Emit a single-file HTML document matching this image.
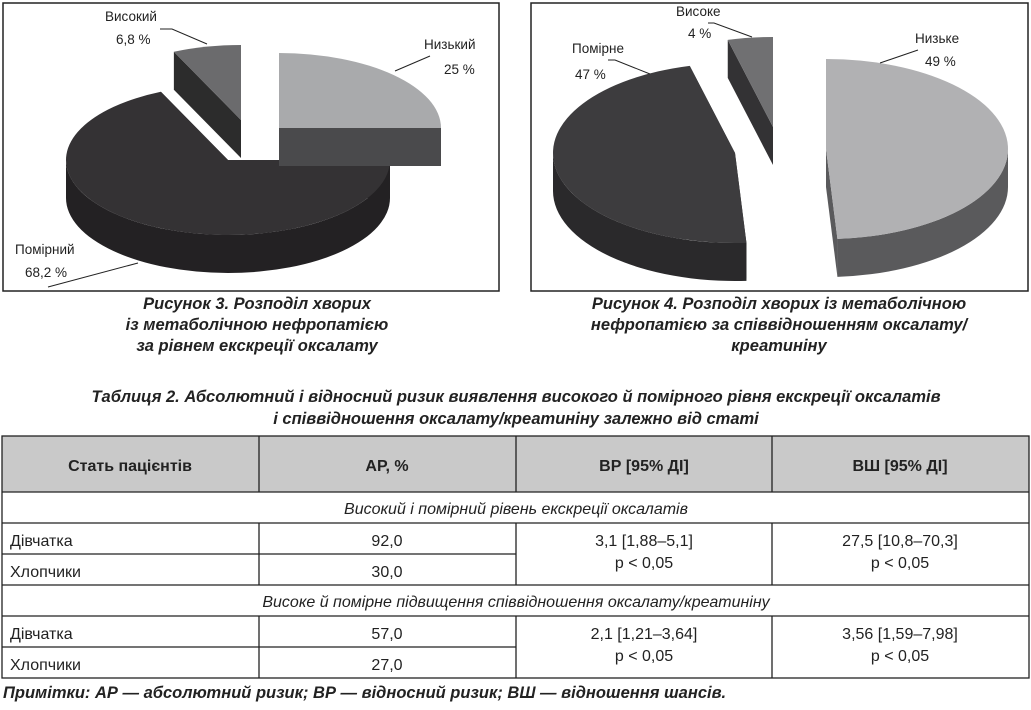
<!DOCTYPE html>
<html><head><meta charset="utf-8">
<style>
html,body{margin:0;padding:0;background:#fff;}
body{width:1031px;height:705px;overflow:hidden;position:relative;font-family:"Liberation Sans","Noto Sans CJK SC",sans-serif;}
svg text{font-family:"Liberation Sans","Noto Sans CJK SC",sans-serif;fill:#222;}
.cap{font-weight:bold;font-style:italic;font-size:16.5px;}
.lbl{font-size:13.5px;}
.tb{font-size:16px;}
</style></head>
<body>
<svg id="s" width="1031" height="705" viewBox="0 0 1031 705">
  <rect x="3" y="3" width="496" height="288" fill="#fff" stroke="#222" stroke-width="1.5"/>
  <rect x="531" y="3" width="497" height="288" fill="#fff" stroke="#222" stroke-width="1.5"/>
  <g id="pie1"></g>
  <g id="pie2"></g>

  <!-- chart 1 labels -->
  <g>
    <text class="lbl" x="105" y="21">Високий</text>
    <text class="lbl" x="116" y="44">6,8 %</text>
    <polyline points="160,29 172,29 207,44" fill="none" stroke="#222" stroke-width="1"/>
    <text class="lbl" x="424" y="49">Низький</text>
    <text class="lbl" x="444" y="74">25 %</text>
    <line x1="395" y1="71" x2="430" y2="56" stroke="#222" stroke-width="1"/>
    <text class="lbl" x="15" y="254">Помірний</text>
    <text class="lbl" x="25" y="277">68,2 %</text>
    <line x1="48" y1="287" x2="138" y2="263" stroke="#222" stroke-width="1"/>
  </g>
  <!-- chart 2 labels -->
  <g>
    <text class="lbl" x="676" y="16">Високе</text>
    <text class="lbl" x="688" y="38">4 %</text>
    <polyline points="708,23 714,23 752,37" fill="none" stroke="#222" stroke-width="1"/>
    <text class="lbl" x="572" y="53">Помірне</text>
    <text class="lbl" x="575" y="79">47 %</text>
    <polyline points="608,60 615,60 650,74" fill="none" stroke="#222" stroke-width="1"/>
    <text class="lbl" x="915" y="43">Низьке</text>
    <text class="lbl" x="925" y="66">49 %</text>
    <line x1="880" y1="63" x2="918" y2="50" stroke="#222" stroke-width="1"/>
  </g>

  <!-- captions -->
  <g>
    <text class="cap" x="257" y="309" text-anchor="middle">Рисунок 3. Розподіл хворих</text>
    <text class="cap" x="257" y="330" text-anchor="middle">із метаболічною нефропатією</text>
    <text class="cap" x="257" y="351" text-anchor="middle">за рівнем екскреції оксалату</text>
  </g>
  <g>
    <text class="cap" x="779" y="309" text-anchor="middle">Рисунок 4. Розподіл хворих із метаболічною</text>
    <text class="cap" x="779" y="330" text-anchor="middle">нефропатією за співвідношенням оксалату/</text>
    <text class="cap" x="779" y="351" text-anchor="middle">креатиніну</text>
  </g>
  <g>
    <text class="cap" x="516" y="402" text-anchor="middle">Таблиця 2. Абсолютний і відносний ризик виявлення високого й помірного рівня екскреції оксалатів</text>
    <text class="cap" x="516" y="424" text-anchor="middle">і співвідношення оксалату/креатиніну залежно від статі</text>
  </g>

  <!-- table -->
  <g>
    <rect x="2" y="436" width="1027" height="56" fill="#c9c9c9"/>
    <g stroke="#222" stroke-width="1.3" fill="none">
      <rect x="2" y="436" width="1027" height="242"/>
      <line x1="2" y1="492" x2="1029" y2="492"/>
      <line x1="2" y1="523" x2="1029" y2="523"/>
      <line x1="2" y1="554" x2="516" y2="554"/>
      <line x1="2" y1="585" x2="1029" y2="585"/>
      <line x1="2" y1="616" x2="1029" y2="616"/>
      <line x1="2" y1="647" x2="516" y2="647"/>
      <line x1="259" y1="436" x2="259" y2="492"/>
      <line x1="516" y1="436" x2="516" y2="492"/>
      <line x1="772" y1="436" x2="772" y2="492"/>
      <line x1="259" y1="523" x2="259" y2="585"/>
      <line x1="516" y1="523" x2="516" y2="585"/>
      <line x1="772" y1="523" x2="772" y2="585"/>
      <line x1="259" y1="616" x2="259" y2="678"/>
      <line x1="516" y1="616" x2="516" y2="678"/>
      <line x1="772" y1="616" x2="772" y2="678"/>
    </g>
    <g class="tb" font-weight="bold">
      <text class="tb" x="130" y="471" text-anchor="middle" font-weight="bold">Стать пацієнтів</text>
      <text class="tb" x="387" y="471" text-anchor="middle" font-weight="bold">АР, %</text>
      <text class="tb" x="644" y="471" text-anchor="middle" font-weight="bold">ВР [95% ДІ]</text>
      <text class="tb" x="900" y="471" text-anchor="middle" font-weight="bold">ВШ [95% ДІ]</text>
    </g>
    <text class="tb" x="516" y="514" text-anchor="middle" font-style="italic">Високий і помірний рівень екскреції оксалатів</text>
    <text class="tb" x="10" y="546">Дівчатка</text>
    <text class="tb" x="387" y="546" text-anchor="middle">92,0</text>
    <text class="tb" x="10" y="577">Хлопчики</text>
    <text class="tb" x="387" y="577" text-anchor="middle">30,0</text>
    <text class="tb" x="644" y="546" text-anchor="middle">3,1 [1,88–5,1]</text>
    <text class="tb" x="644" y="568" text-anchor="middle">p &lt; 0,05</text>
    <text class="tb" x="900" y="546" text-anchor="middle">27,5 [10,8–70,3]</text>
    <text class="tb" x="900" y="568" text-anchor="middle">p &lt; 0,05</text>
    <text class="tb" x="516" y="607" text-anchor="middle" font-style="italic">Високе й помірне підвищення співвідношення оксалату/креатиніну</text>
    <text class="tb" x="10" y="639">Дівчатка</text>
    <text class="tb" x="387" y="639" text-anchor="middle">57,0</text>
    <text class="tb" x="10" y="670">Хлопчики</text>
    <text class="tb" x="387" y="670" text-anchor="middle">27,0</text>
    <text class="tb" x="644" y="639" text-anchor="middle">2,1 [1,21–3,64]</text>
    <text class="tb" x="644" y="661" text-anchor="middle">p &lt; 0,05</text>
    <text class="tb" x="900" y="639" text-anchor="middle">3,56 [1,59–7,98]</text>
    <text class="tb" x="900" y="661" text-anchor="middle">p &lt; 0,05</text>
  </g>
  <text class="cap" x="3" y="698">Примітки: АР — абсолютний ризик; ВР — відносний ризик; ВШ — відношення шансів.</text>
</svg>
<script>
// Chart data
const chart1Categories = ["Низький", "Помірний", "Високий"];
const chart1Values = [25, 68.2, 6.8];
const chart2Categories = ["Низьке", "Помірне", "Високе"];
const chart2Values = [49, 47, 4];

// Layout (styling, not data)
const layout1 = {rx:162, ry:75, depth:38, centers:[[279,128],[228,160],[241,120]],
  tops:["#a9aaac","#343234","#6b6b6d"], sides:["#4a4a4c","#232123","#2c2c2c"], order:[1,0,2]};
const layout2 = {rx:182, ry:90, depth:38, centers:[[826,149],[735,153],[773,127]],
  tops:["#b1b1b3","#3d3c3e","#707072"], sides:["#5a5a5c","#2a292b","#333234"], order:[2,1,0]};

const NS = "http://www.w3.org/2000/svg";
function pt(cx,cy,rx,ry,a,dy){const r=a*Math.PI/180;return [cx+rx*Math.sin(r), cy-ry*Math.cos(r)+(dy||0)];}
function mk(tag,attrs,parent){const e=document.createElementNS(NS,tag);for(const k in attrs)e.setAttribute(k,attrs[k]);parent.appendChild(e);return e;}

function drawPie(gid, cats, vals, L){
  const g=document.getElementById(gid);
  const total=vals.reduce((a,b)=>a+b,0);
  const angles=[];let acc=0;
  vals.forEach(v=>{const a0=acc/total*360;acc+=v;angles.push([a0,acc/total*360]);});
  L.order.forEach(i=>{
    const [a0,a1]=angles[i];const [cx,cy]=L.centers[i];const {rx,ry,depth}=L;
    const sg=mk("g",{},g);
    
    
    // radial faces
    [a0,a1].forEach(a=>{
      const p=pt(cx,cy,rx,ry,a);
      mk("path",{d:`M${cx},${cy} L${p[0]},${p[1]} L${p[0]},${p[1]+depth} L${cx},${cy+depth} Z`,fill:L.sides[i]},sg);
    });
    // outer wall (front half 90..270)
    const s=Math.max(a0,90), e=Math.min(a1,270);
    if(e>s){
      const p0=pt(cx,cy,rx,ry,s),p1=pt(cx,cy,rx,ry,e);
      const lg=(e-s)>180?1:0;
      mk("path",{d:`M${p0[0]},${p0[1]} A${rx},${ry} 0 ${lg} 1 ${p1[0]},${p1[1]} L${p1[0]},${p1[1]+depth} A${rx},${ry} 0 ${lg} 0 ${p0[0]},${p0[1]+depth} Z`,fill:L.sides[i]},sg);
    }
    // top face
    const q0=pt(cx,cy,rx,ry,a0),q1=pt(cx,cy,rx,ry,a1);
    const lg2=(a1-a0)>180?1:0;
    const top=mk("path",{d:`M${cx},${cy} L${q0[0]},${q0[1]} A${rx},${ry} 0 ${lg2} 1 ${q1[0]},${q1[1]} Z`,fill:L.tops[i]},sg);
    
    
  });
}
drawPie("pie1", chart1Categories, chart1Values, layout1);
drawPie("pie2", chart2Categories, chart2Values, layout2);
</script>
</body></html>
